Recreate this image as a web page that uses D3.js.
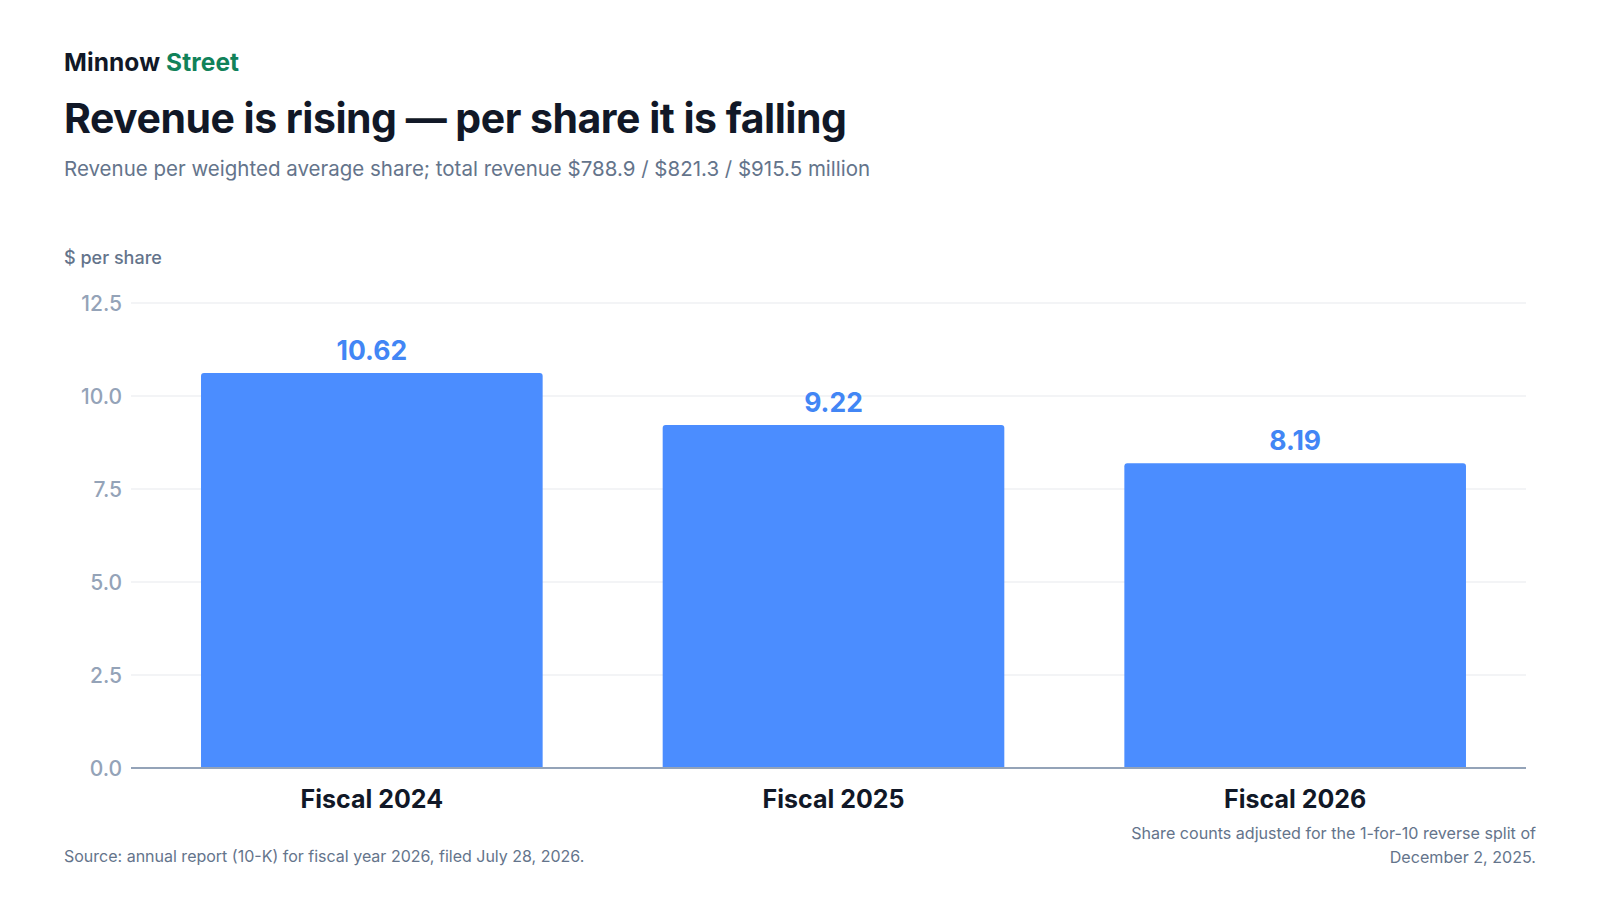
<!DOCTYPE html>
<html>
<head>
<meta charset="utf-8">
<script src="https://cdn.jsdelivr.net/npm/d3@7/dist/d3.min.js"></script>
<style>
  html, body { margin: 0; padding: 0; background: #ffffff; }
  svg { display: block; font-family: Inter, "Noto Sans", sans-serif; }
</style>
</head>
<body>
<svg id="chart" width="1600" height="900"></svg>
<script>
const categories = ["Fiscal 2024", "Fiscal 2025", "Fiscal 2026"];
const values = [10.62, 9.22, 8.19];
const valueLabels = ["10.62", "9.22", "8.19"];
const yTicks = [0, 2.5, 5, 7.5, 10, 12.5];

const svg = d3.select("#chart");
const blue = "#4b8dff";
const labelBlue = "#4286f5";

const x = d3.scaleBand().domain(categories).range([141, 1526]).paddingInner(0.26).paddingOuter(0.13);
const y = d3.scaleLinear().domain([0, 12.5]).range([768, 303]);

// Header
const brand = svg.append("text").attr("x", 64).attr("y", 71)
  .attr("font-size", 24.5).attr("font-weight", 700).attr("letter-spacing", 0.1);
brand.append("tspan").attr("fill", "#111827").text("Minnow ");
brand.append("tspan").attr("fill", "#11825a").text("Street");

svg.append("text").attr("x", 64).attr("y", 133)
  .attr("font-size", 41).attr("font-weight", 700).attr("fill", "#111827")
  .attr("letter-spacing", -0.5)
  .text("Revenue is rising \u2014 per share it is falling");

svg.append("text").attr("x", 64).attr("y", 176)
  .attr("font-size", 20.5).attr("fill", "#64748b")
  .text("Revenue per weighted average share; total revenue $788.9 / $821.3 / $915.5 million");

svg.append("text").attr("x", 64).attr("y", 264)
  .attr("font-size", 18).attr("font-weight", 500).attr("fill", "#64748b")
  .text("$ per share");

// Grid
const grid = svg.append("g");
grid.selectAll("line").data(yTicks.filter(d => d > 0)).join("line")
  .attr("x1", 131).attr("x2", 1526)
  .attr("y1", d => y(d)).attr("y2", d => y(d))
  .attr("stroke", "#e8eaee").attr("stroke-width", 1.2);

// Y axis labels
const yAxis = d3.axisLeft(y).tickValues(yTicks).tickFormat(d3.format(".1f")).tickSize(0).tickPadding(0);
const yg = svg.append("g").attr("transform", "translate(122,0)").call(yAxis);
yg.select(".domain").remove();
yg.selectAll("text").attr("font-size", 21).attr("font-weight", 500).attr("fill", "#94a3b8")
  .attr("font-family", "Inter, sans-serif").attr("dy", "0.36em");

// Bars with rounded top corners
const r = 3;
svg.append("g").selectAll("path").data(values).join("path")
  .attr("fill", blue)
  .attr("d", (d, i) => {
    const x0 = x(categories[i]), w = x.bandwidth(), y0 = y(d), y1 = y(0);
    return `M${x0},${y1}V${y0 + r}Q${x0},${y0} ${x0 + r},${y0}H${x0 + w - r}Q${x0 + w},${y0} ${x0 + w},${y0 + r}V${y1}Z`;
  });

// Baseline
svg.append("line").attr("x1", 131).attr("x2", 1526)
  .attr("y1", y(0)).attr("y2", y(0))
  .attr("stroke", "#94a3b8").attr("stroke-width", 2);

// Value labels
svg.append("g").selectAll("text").data(values).join("text")
  .attr("x", (d, i) => x(categories[i]) + x.bandwidth() / 2)
  .attr("y", d => y(d) - 13)
  .attr("text-anchor", "middle")
  .attr("font-size", 26.5).attr("font-weight", 700).attr("fill", labelBlue)
  .text((d, i) => valueLabels[i]);

// X axis labels
const xAxis = d3.axisBottom(x).tickSize(0).tickPadding(0);
const xg = svg.append("g").attr("transform", "translate(0,808)").call(xAxis);
xg.select(".domain").remove();
xg.selectAll("text").attr("font-size", 25).attr("font-weight", 700).attr("fill", "#111827")
  .attr("font-family", "Inter, sans-serif").attr("dy", 0);

// Footnotes
svg.append("text").attr("x", 64).attr("y", 862)
  .attr("font-size", 16).attr("fill", "#64748b")
  .text("Source: annual report (10-K) for fiscal year 2026, filed July 28, 2026.");

const note = svg.append("text").attr("text-anchor", "end")
  .attr("font-size", 16.1).attr("fill", "#64748b");
note.append("tspan").attr("x", 1536).attr("y", 839)
  .text("Share counts adjusted for the 1-for-10 reverse split of");
note.append("tspan").attr("x", 1536).attr("y", 863)
  .text("December 2, 2025.");
</script>
</body>
</html>
